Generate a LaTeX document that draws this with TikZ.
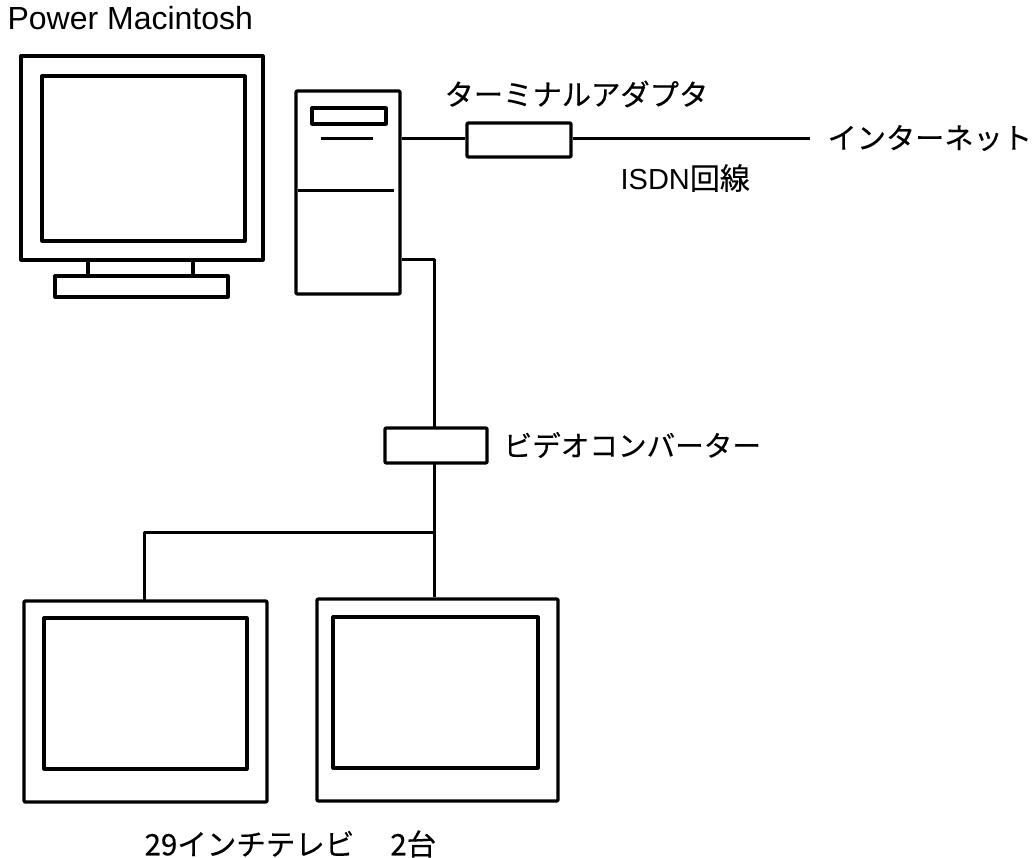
\documentclass[tikz,border=0pt]{standalone}
\usepackage{fontspec}
\setmainfont{Liberation Sans}
\newfontfamily\cjk[FakeBold=0.3]{Noto Sans CJK JP}
\begin{document}
\begin{tikzpicture}[x=1pt,y=-1pt,line width=3.2pt,line join=round,
  lab/.style={inner sep=0pt,anchor=west,font=\fontsize{#1}{32}\selectfont\cjk},
  boxn/.style={draw,line width=3.2pt,inner sep=0pt,rounded corners=1pt},
  conn/.style={line width=3pt}]
\useasboundingbox (0,0) rectangle (1036,858);
\def\bx(#1,#2,#3,#4){(#1,#2) rectangle (#3,#4)}
% monitor
\draw \bx(21,56,263,260);
\draw \bx(42,76,245,241);
\draw (88,260)--(88,276) (193,260)--(193,276);
\draw \bx(55,276,228,297);
% tower
\node[boxn,minimum width=104pt,minimum height=203pt] (tower) at (348,192.5) {};
\draw \bx(312,108,386,124);
\draw[conn] (321,139)--(373,139);
\draw[conn] (298,191)--(394,191);
% adapter
\node[boxn,minimum width=104pt,minimum height=34pt] (ta) at (519,140) {};
\coordinate (net) at (810,139);
\draw[conn] (tower.east |- net)--(ta.west |- net);
\draw[conn] (ta.east |- net)--(net);
% video converter
\node[boxn,minimum width=102pt,minimum height=35pt] (vc) at (436,445.5) {};
\coordinate (t2) at (tower.east |- 0,260);
\draw[conn] (t2)-|(434,428);
% TVs
\node[boxn,minimum width=243pt,minimum height=201pt] (tv1) at (145.5,701.5) {};
\draw \bx(44,618,247,769);
\node[boxn,minimum width=241pt,minimum height=202pt] (tv2) at (437.5,700) {};
\draw \bx(333,617,538,768);
\coordinate (vb) at (434,463);
\draw[conn] (vb)--(vb |- tv2.north);
\coordinate (j) at (434,532);
\draw[conn] (j)-|(144,601);
% labels
\node[inner sep=0pt,anchor=base west,font=\fontsize{32}{34}\selectfont] (pm) at (6,30) {Power Macintosh};
\node[lab=29.3] (l1) at (443,94) {ターミナルアダプタ};
\node[lab=29.2] (l2) at (826,138) {インターネット};
\node[lab=29] (l3) at (619,178) {\rmfamily ISDN\cjk\fontsize{30}{32}\selectfont 回線};
\node[lab=28.6] (l4) at (502,445) {ビデオコンバーター};
\node[lab=29.5] (l5) at (143,844) {29インチテレビ\hspace{36pt}2台};
\end{tikzpicture}
\end{document}
